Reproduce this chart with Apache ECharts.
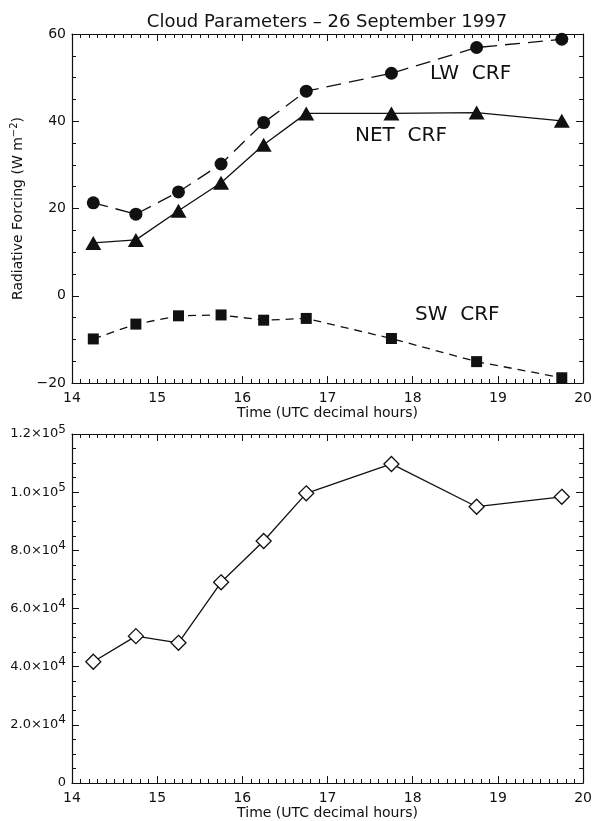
<!DOCTYPE html>
<html>
<head>
<meta charset="utf-8">
<script src="https://cdn.jsdelivr.net/npm/echarts@6/dist/echarts.min.js"></script>
<style>
  html, body { margin: 0; padding: 0; background: #fff; }
  #chart { width: 595px; height: 821px; }
</style>
</head>
<body>
<div id="chart"></div>
<script>
// Observation times (UTC decimal hours)
const times = [14.25, 14.75, 15.25, 15.75, 16.25, 16.75, 17.75, 18.75, 19.75];
// Cloud radiative forcing (W m^-2)
const lwCrf  = [21.3, 18.7, 23.8, 30.2, 39.7, 46.9, 51.0, 56.9, 58.8];
const netCrf = [12.1, 12.8, 19.5, 25.9, 34.6, 41.8, 41.8, 42.0, 40.1];
const swCrf  = [-9.9, -6.5, -4.6, -4.4, -5.6, -5.2, -9.8, -15.1, -18.8];
// Lower panel quantity
const cloudValues = [41700, 50500, 48200, 69000, 83200, 99600, 109700, 95000, 98400];

const titleText = 'Cloud Parameters \u2013 26 September 1997';
const xName = 'Time (UTC decimal hours)';
const seriesLabels = ['LW  CRF', 'NET  CRF', 'SW  CRF'];

const pairs = (ys) => times.map((t, i) => [t, ys[i]]);

const FONT = '"DejaVu Sans", Verdana, sans-serif';
const INK = '#111';

function xAxisDef(gridIndex, top) {
  return {
    type: 'value', gridIndex, position: top ? 'top' : 'bottom',
    min: 14, max: 20, interval: 1,
    name: top ? '' : xName, nameLocation: 'middle', nameGap: 18,
    nameTextStyle: { color: INK, fontFamily: FONT, fontSize: 14 },
    axisLine: { show: true, onZero: false, lineStyle: { color: INK, width: 1.2 } },
    axisTick: { show: true, inside: true, length: 7, lineStyle: { color: INK, width: 1 } },
    minorTick: { show: true, splitNumber: 10, length: 4, lineStyle: { color: INK, width: 1 } },
    axisLabel: { show: !top, color: INK, fontFamily: FONT, fontSize: 14, margin: 8 },
    splitLine: { show: false }, minorSplitLine: { show: false }
  };
}

function yAxisDef(gridIndex, right, min, max, interval, fmt, rich, size) {
  return {
    type: 'value', gridIndex, position: right ? 'right' : 'left',
    min, max, interval,
    axisLine: { show: true, onZero: false, lineStyle: { color: INK, width: 1.2 } },
    axisTick: { show: true, inside: true, length: 7, lineStyle: { color: INK, width: 1 } },
    minorTick: { show: true, splitNumber: 4, length: 4, lineStyle: { color: INK, width: 1 } },
    axisLabel: { show: !right, color: INK, fontFamily: FONT, fontSize: size || 14, margin: 6,
                 formatter: fmt, rich },
    splitLine: { show: false }, minorSplitLine: { show: false }
  };
}

// Mantissa x 10^exponent labels for the lower panel
const sciFmt = (v) => {
  if (v === 0) return '0';
  const e = Math.floor(Math.log10(v));
  const m = v / Math.pow(10, e);
  return m.toFixed(1) + '\u00d710{s|' + e + '}';
};
const sciRich = { s: { fontSize: 12, verticalAlign: 'top', padding: [0, 0, 9, 0], color: INK, fontFamily: FONT } };

const topY = yAxisDef(0, false, -20, 60, 20, (v) => (v < 0 ? '\u2212' + Math.abs(v) : String(v)));
topY.name = 'Radiative Forcing (W m{s|\u22122})';
topY.nameLocation = 'middle';
topY.nameGap = 42;
topY.nameTextStyle = { color: INK, fontFamily: FONT, fontSize: 14,
  rich: { s: { fontSize: 10, verticalAlign: 'top', padding: [0, 0, 8, 0], color: INK, fontFamily: FONT } } };

const option = {
  backgroundColor: '#fff',
  animation: false,
  grid: [
    { left: 72, right: 7, top: 34, height: 349 },
    { left: 72, right: 7, top: 434, height: 349 }
  ],
  xAxis: [xAxisDef(0, false), xAxisDef(0, true), xAxisDef(1, false), xAxisDef(1, true)],
  yAxis: [
    topY,
    yAxisDef(0, true, -20, 60, 20),
    yAxisDef(1, false, 0, 120000, 20000, sciFmt, sciRich, 13),
    yAxisDef(1, true, 0, 120000, 20000)
  ],
  series: [
    { name: 'LW CRF', type: 'line', xAxisIndex: 0, yAxisIndex: 0, data: pairs(lwCrf),
      symbol: 'circle', symbolSize: 13, itemStyle: { color: INK },
      lineStyle: { color: INK, width: 1.3, type: [15, 8] } },
    { name: 'NET CRF', type: 'line', xAxisIndex: 0, yAxisIndex: 0, data: pairs(netCrf),
      symbol: 'triangle', symbolSize: [16, 14], itemStyle: { color: INK },
      lineStyle: { color: INK, width: 1.3 } },
    { name: 'SW CRF', type: 'line', xAxisIndex: 0, yAxisIndex: 0, data: pairs(swCrf),
      symbol: 'rect', symbolSize: 11, itemStyle: { color: INK },
      lineStyle: { color: INK, width: 1.3, type: [8, 6] } },
    { name: 'cloud', type: 'line', xAxisIndex: 2, yAxisIndex: 2, data: pairs(cloudValues),
      symbol: 'diamond', symbolSize: 15, showAllSymbol: true,
      itemStyle: { color: '#fff', borderColor: INK, borderWidth: 1.3 },
      lineStyle: { color: INK, width: 1.3 } }
  ],
  graphic: [
    { type: 'text', x: 327, y: 22, style: { text: titleText, fill: INK, font: '18px ' + FONT,
      textAlign: 'center', textVerticalAlign: 'middle' } },
    { type: 'text', x: 430, y: 74, style: { text: seriesLabels[0], fill: INK, font: '20px ' + FONT,
      textAlign: 'left', textVerticalAlign: 'middle' } },
    { type: 'text', x: 355, y: 136, style: { text: seriesLabels[1], fill: INK, font: '20px ' + FONT,
      textAlign: 'left', textVerticalAlign: 'middle' } },
    { type: 'text', x: 415, y: 315, style: { text: seriesLabels[2], fill: INK, font: '20px ' + FONT,
      textAlign: 'left', textVerticalAlign: 'middle' } }
  ]
};

const chart = echarts.init(document.getElementById('chart'), null, { renderer: 'canvas' });
chart.setOption(option);
</script>
</body>
</html>
